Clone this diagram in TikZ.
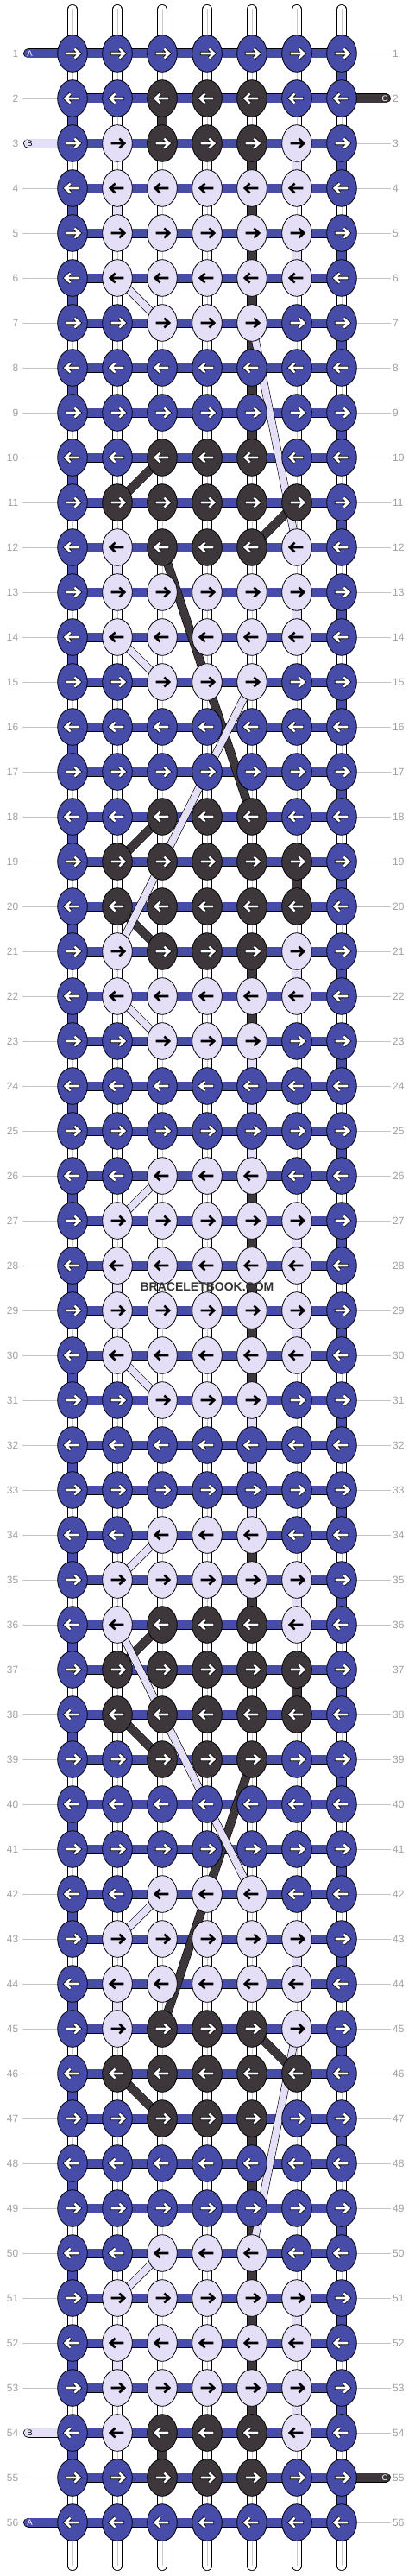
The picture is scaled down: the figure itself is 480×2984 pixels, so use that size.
\documentclass[tikz,border=0pt]{standalone}
\usepackage{fontspec}
\setmainfont{Liberation Sans}
\usetikzlibrary{shapes.geometric}
\definecolor{k0}{HTML}{464CA8}
\definecolor{k1}{HTML}{E4DFF7}
\definecolor{k2}{HTML}{3D373C}
\definecolor{numgrey}{HTML}{A0A0A0}
\definecolor{rulegrey}{HTML}{C4C4C4}
\definecolor{midgrey}{HTML}{C8C8C8}
\definecolor{wmark}{HTML}{333333}
\tikzset{
 vseg/.style={line width=0.7pt, double distance=10pt},
 wseg/.style={vseg, double=white},
 midline/.style={midgrey, line width=0.8pt},
 bseg/.style={vseg, double=k0},
 lseg/.style={vseg, double=k1},
 dseg/.style={vseg, double=k2},
 hbar/.style={line width=0.7pt, double=k0, double distance=9.6pt},
 ldiag/.style={line width=0.6pt, double=k1, double distance=8pt},
 ddiag/.style={line width=0.6pt, double=k2, double distance=9pt},
 knot/.style={ellipse, draw=black, line width=0.8pt, minimum width=34.6pt, minimum height=42.6pt, inner sep=0pt},
 arrw/.style={line width=2.6pt, line cap=butt, line join=miter},
 arro/.style={line width=4.2pt, line cap=butt, line join=miter, draw=black},
 numl/.style={font=\fontsize{12}{12}\selectfont, text=numgrey, inner sep=0pt, anchor=east},
 numr/.style={font=\fontsize{12}{12}\selectfont, text=numgrey, inner sep=0pt, anchor=west},
 rulel/.style={rulegrey, line width=0.8pt},
 stublbl/.style={font=\fontsize{9.5}{9.5}\selectfont, inner sep=0pt},
}
\begin{document}
\begin{tikzpicture}[x=1pt,y=-1pt]
\useasboundingbox (0,0) rectangle (480,2984);
\fill[white] (0,0) rectangle (480,2984);
% coordinates
\foreach \r in {1,...,56}{
  \foreach \c in {1,...,7}{
    \coordinate (p-\r-\c) at ({84+52*(\c-1)},{62+52*(\r-1)});
  }
  \coordinate (ll-\r) at (26,{62+52*(\r-1)});
  \coordinate (rr-\r) at (453,{62+52*(\r-1)});
  \coordinate (sl-\r) at (32.6,{62+52*(\r-1)});
  \coordinate (sr-\r) at (447.4,{62+52*(\r-1)});
}
% top and bottom strands
\foreach \c in {1,...,7}{
  \coordinate (top-\c) at ({84+52*(\c-1)},10.7);
  \coordinate (bot-\c) at ({84+52*(\c-1)},2972.3);
  \draw[wseg,line cap=round] (top-\c) -- (p-1-\c);
  \draw[midline] (top-\c) -- (p-1-\c);
  \draw[wseg,line cap=round] (p-56-\c) -- (bot-\c);
  \draw[midline] (p-56-\c) -- (bot-\c);
}
% row labels and rules
\foreach \r in {1,...,56}{
  \node[numl] (ln-\r) at (21.5,{62+52*(\r-1)}) {\r};
  \node[numr] (rn-\r) at (455,{62+52*(\r-1)}) {\r};
  \ifnum\r=1 \else\ifnum\r=3 \else\ifnum\r=54 \else\ifnum\r=56 \else
    \draw[rulel] (ll-\r) -- (p-\r-1);
  \fi\fi\fi\fi
  \ifnum\r=2 \else\ifnum\r=55 \else
    \draw[rulel] (p-\r-7) -- (rr-\r);
  \fi\fi
}
% vertical segments (white)
\foreach \r in {1,...,55}{
  \pgfmathtruncatemacro\rn{\r+1}
  \foreach \c in {1,...,7}{
    \draw[wseg] (p-\r-\c) -- (p-\rn-\c);
    \draw[midline] (p-\r-\c) -- (p-\rn-\c);
  }
  \ifodd\r\relax
    \draw[bseg] (p-\r-7) -- (p-\rn-7);
  \else
    \draw[bseg] (p-\r-1) -- (p-\rn-1);
  \fi
}
% carried light thread
\foreach \r/\c in {3/6,4/2,5/6,12/2,13/6,21/6,23/5,24/5,25/5,27/6,28/2,29/6,31/5,32/5,33/5,35/6,43/6,44/2,51/6,52/2,53/6}{
  \pgfmathtruncatemacro\rn{\r+1}
  \draw[lseg] (p-\r-\c) -- (p-\rn-\c);
}
% carried dark thread
\foreach \r/\c in {2/3,3/5,4/5,5/5,6/5,7/5,8/5,9/5,19/6,21/5,22/5,26/5,27/5,28/5,29/5,30/5,34/5,35/5,37/6,47/5,48/5,49/5,50/5,51/5,52/5,53/5,54/3}{
  \pgfmathtruncatemacro\rn{\r+1}
  \draw[dseg] (p-\r-\c) -- (p-\rn-\c);
}
% horizontal bars
\foreach \r in {1,...,56}{
  \foreach \c in {1,...,6}{
    \pgfmathtruncatemacro\cn{\c+1}
    \draw[hbar] (p-\r-\c) -- (p-\r-\cn);
  }
}
% diagonal threads
\foreach \a/\b/\e/\f in {10/3/11/2, 11/6/12/5, 12/3/18/5, 18/3/19/2, 20/2/21/3, 36/3/37/2, 38/2/39/3, 39/5/45/3, 45/5/46/6, 46/2/47/3}{
  \draw[ddiag] (p-\a-\b) -- (p-\e-\f);
}
\foreach \a/\b/\e/\f in {6/2/7/3, 7/5/12/6, 14/2/15/3, 15/5/21/2, 22/2/23/3, 26/3/27/2, 30/2/31/3, 34/3/35/2, 36/2/42/5, 42/3/43/2, 45/6/50/5, 50/3/51/2}{
  \draw[ldiag] (p-\a-\b) -- (p-\e-\f);
}
% stubs
\draw[hbar,line cap=round] (sl-1) -- (p-1-1);
\draw[hbar,line cap=round] (sl-56) -- (p-56-1);
\draw[hbar,double=k1,line cap=round] (sl-3) -- (p-3-1);
\draw[hbar,double=k1,line cap=round] (sl-54) -- (p-54-1);
\draw[hbar,double=k2,line cap=round] (p-2-7) -- (sr-2);
\draw[hbar,double=k2,line cap=round] (p-55-7) -- (sr-55);
\node[stublbl,text=white] (sa1) at (34.5,62) {A};
\node[stublbl,text=white] (sa2) at (34.5,2922) {A};
\node[stublbl,text=black] (sb1) at (34.5,166) {B};
\node[stublbl,text=black] (sb2) at (34.5,2818) {B};
\node[stublbl,text=white] (sc1) at (446,114) {C};
\node[stublbl,text=white] (sc2) at (446,2870) {C};
% knots
\foreach \row [count=\r] in {
{0,0,0,0,0,0,0},{0,0,2,2,2,0,0},{0,1,2,2,2,1,0},{0,1,1,1,1,1,0},
{0,1,1,1,1,1,0},{0,1,1,1,1,1,0},{0,0,1,1,1,0,0},{0,0,0,0,0,0,0},
{0,0,0,0,0,0,0},{0,0,2,2,2,0,0},{0,2,2,2,2,2,0},{0,1,2,2,2,1,0},
{0,1,1,1,1,1,0},{0,1,1,1,1,1,0},{0,0,1,1,1,0,0},{0,0,0,0,0,0,0},
{0,0,0,0,0,0,0},{0,0,2,2,2,0,0},{0,2,2,2,2,2,0},{0,2,2,2,2,2,0},
{0,1,2,2,2,1,0},{0,1,1,1,1,1,0},{0,0,1,1,1,0,0},{0,0,0,0,0,0,0},
{0,0,0,0,0,0,0},{0,0,1,1,1,0,0},{0,1,1,1,1,1,0},{0,1,1,1,1,1,0},
{0,1,1,1,1,1,0},{0,1,1,1,1,1,0},{0,0,1,1,1,0,0},{0,0,0,0,0,0,0},
{0,0,0,0,0,0,0},{0,0,1,1,1,0,0},{0,1,1,1,1,1,0},{0,1,2,2,2,1,0},
{0,2,2,2,2,2,0},{0,2,2,2,2,2,0},{0,0,2,2,2,0,0},{0,0,0,0,0,0,0},
{0,0,0,0,0,0,0},{0,0,1,1,1,0,0},{0,1,1,1,1,1,0},{0,1,1,1,1,1,0},
{0,1,2,2,2,1,0},{0,2,2,2,2,2,0},{0,0,2,2,2,0,0},{0,0,0,0,0,0,0},
{0,0,0,0,0,0,0},{0,0,1,1,1,0,0},{0,1,1,1,1,1,0},{0,1,1,1,1,1,0},
{0,1,1,1,1,1,0},{0,1,2,2,2,1,0},{0,0,2,2,2,0,0},{0,0,0,0,0,0,0}}{
  \ifodd\r\relax\def\dir{1}\else\def\dir{-1}\fi
  \foreach \k [count=\c] in \row {
    \node[knot, fill=k\k] (k-\r-\c) at (p-\r-\c) {};
    \begin{scope}[shift={(p-\r-\c)}, xscale=\dir]
      \ifnum\k=1
        \draw[arrw,black] (-7.3,0) -- (7.6,0) (2.4,-5.4) -- (8.2,0) -- (2.4,5.4);
      \else
        \draw[arro] (-8.1,0) -- (7.6,0) (2.4,-5.4) -- (8.2,0) -- (2.4,5.4);
        \draw[arrw,white] (-7.3,0) -- (7.6,0) (2.4,-5.4) -- (8.2,0) -- (2.4,5.4);
      \fi
    \end{scope}
  }
}
% watermark
\node[font=\fontsize{14}{14}\selectfont\bfseries, text=wmark, inner sep=0pt] (wm) at (240,1491) {BRACELETBOOK.COM};
\end{tikzpicture}
\end{document}
